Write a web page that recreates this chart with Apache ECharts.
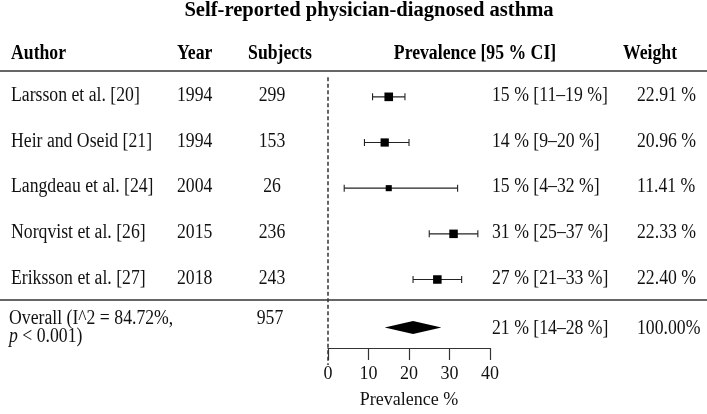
<!DOCTYPE html>
<html><head><meta charset="utf-8">
<script src="https://cdn.jsdelivr.net/npm/echarts@6/dist/echarts.min.js"></script>
<style>html,body{margin:0;padding:0;background:#fff}#c{width:707px;height:414px}</style>
</head><body><div id="c"></div>
<script>
// ---- data ----
const chartTitle = 'Self-reported physician-diagnosed asthma';
const headers = ['Author', 'Year', 'Subjects', 'Prevalence [95 % CI]', 'Weight'];
const authors = ['Larsson et al. [20]', 'Heir and Oseid [21]', 'Langdeau et al. [24]', 'Norqvist et al. [26]', 'Eriksson et al. [27]'];
const years = [1994, 1994, 2004, 2015, 2018];
const subjects = [299, 153, 26, 236, 243];
const prevalence = [15, 14, 15, 31, 27];
const ciLow = [11, 9, 4, 25, 21];
const ciHigh = [19, 20, 32, 37, 33];
const weights = [22.91, 20.96, 11.41, 22.33, 22.40];
const overallLine1 = 'Overall (I^2 = 84.72%,';
const overallLine2 = 'p < 0.001)';
const overallSubjects = 957;
const overallPrev = 21, overallLow = 14, overallHigh = 28;
const overallWeight = '100.00%';
const xTicks = [0, 10, 20, 30, 40];
const xAxisName = 'Prevalence %';

// ---- layout ----
const FONT = '"Liberation Serif", "Times New Roman", serif';
const FS = 20;
const SX = 0.885;
const TXT = '#111';
const LINE = '#333';
const rows = authors.map((a, i) => i + 1);
const overallRow = 6.05;
const col = { author: 11, year: 177, subjCenter: 272, prev: 492, weight: 637 };

const chart = echarts.init(document.getElementById('c'), null, { renderer: 'canvas' });

function txt(text, x, y, align, bold) {
  return {
    type: 'text', x: x, y: y, scaleX: SX,
    style: { text: text, x: 0, y: 0, font: (bold ? 'bold ' : '') + FS + 'px ' + FONT,
      fill: bold ? '#000' : TXT, align: align || 'left', verticalAlign: 'middle' }
  };
}

const option = {
  animation: false,
  backgroundColor: '#fff',
  grid: { left: 328, right: 217, top: 74, bottom: 63, containLabel: false },
  xAxis: {
    type: 'value', min: xTicks[0], max: xTicks[xTicks.length - 1], interval: 10,
    splitLine: { show: false },
    axisLine: { show: true, lineStyle: { color: LINE, width: 1.2 } },
    axisTick: { show: true, length: 12, lineStyle: { color: LINE, width: 1.2 } },
    axisLabel: { margin: 17, fontFamily: FONT, fontSize: 18, color: TXT },
    name: xAxisName, nameLocation: 'middle', nameGap: 43,
    nameTextStyle: { fontFamily: FONT, fontSize: 18, color: TXT }
  },
  yAxis: { type: 'value', min: 0.5, max: 6.5, inverse: true, show: false },
  graphic: [
    { type: 'text', x: 369, y: 11, style: { text: chartTitle, x: 0, y: 0, font: 'bold 20.6px ' + FONT, fill: '#000', align: 'center', verticalAlign: 'middle' } },
    txt(headers[0], 11, 54, 'left', true),
    txt(headers[1], 177, 54, 'left', true),
    txt(headers[2], 280, 54, 'center', true),
    txt(headers[3], 475, 54, 'center', true),
    txt(headers[4], 650, 54, 'center', true),
    { type: 'line', shape: { x1: 0, y1: 71, x2: 707, y2: 71 }, style: { stroke: LINE, lineWidth: 1.3 } },
    { type: 'line', shape: { x1: 0, y1: 300, x2: 707, y2: 300 }, style: { stroke: LINE, lineWidth: 1.3 } }
  ],
  series: [
    {
      name: 'ref', type: 'custom', clip: false, silent: true,
      data: [[0, 0.57, 6.87]],
      encode: { x: 0, y: [1, 2] },
      renderItem: function (params, api) {
        const a = api.coord([api.value(0), api.value(1)]);
        const b = api.coord([api.value(0), api.value(2)]);
        return { type: 'line', shape: { x1: a[0], y1: a[1], x2: b[0], y2: b[1] },
          style: { stroke: LINE, lineWidth: 1.5, lineDash: [4, 2.5] } };
      }
    },
    {
      name: 'ci', type: 'custom', clip: false, silent: true,
      data: rows.map((r, i) => [ciLow[i], ciHigh[i], r]),
      encode: { x: [0, 1], y: 2 },
      renderItem: function (params, api) {
        const a = api.coord([api.value(0), api.value(2)]);
        const b = api.coord([api.value(1), api.value(2)]);
        const h = 3.5;
        const st = { stroke: '#222', lineWidth: 1.1 };
        return { type: 'group', children: [
          { type: 'line', shape: { x1: a[0], y1: a[1], x2: b[0], y2: b[1] }, style: st },
          { type: 'line', shape: { x1: a[0], y1: a[1] - h, x2: a[0], y2: a[1] + h }, style: st },
          { type: 'line', shape: { x1: b[0], y1: b[1] - h, x2: b[0], y2: b[1] + h }, style: st }
        ] };
      }
    },
    {
      name: 'est', type: 'scatter', symbol: 'rect', silent: true,
      data: rows.map((r, i) => [prevalence[i], r, weights[i]]),
      symbolSize: function (v) { return 1.8 * Math.sqrt(v[2]); },
      itemStyle: { color: '#000', opacity: 1 }
    },
    {
      name: 'overall', type: 'custom', clip: false, silent: true,
      data: [[overallLow, overallPrev, overallHigh, overallRow]],
      encode: { x: [0, 1, 2], y: 3 },
      renderItem: function (params, api) {
        const y = api.value(3);
        const l = api.coord([api.value(0), y]);
        const c = api.coord([api.value(1), y]);
        const r = api.coord([api.value(2), y]);
        const h = 6.5;
        return { type: 'polygon', shape: { points: [[l[0], l[1]], [c[0], c[1] - h], [r[0], r[1]], [c[0], c[1] + h]] },
          style: { fill: '#000' } };
      }
    },
    {
      name: 'table', type: 'custom', clip: false, silent: true,
      data: rows.map((r, i) => [0, r, i]),
      encode: { x: 0, y: 1 },
      renderItem: function (params, api) {
        const i = api.value(2);
        const y = api.coord([0, api.value(1)])[1] - 1;
        return { type: 'group', children: [
          txt(authors[i], col.author, y),
          txt(String(years[i]), col.year, y),
          txt(String(subjects[i]), col.subjCenter, y, 'center'),
          txt(prevalence[i] + ' % [' + ciLow[i] + '\u2013' + ciHigh[i] + ' %]', col.prev, y),
          txt(weights[i].toFixed(2) + ' %', col.weight, y)
        ] };
      }
    },
    {
      name: 'tableOverall', type: 'custom', clip: false, silent: true,
      data: [[0, overallRow]],
      encode: { x: 0, y: 1 },
      renderItem: function (params, api) {
        const y = api.coord([0, api.value(1)])[1];
        const line2 = txt('', col.author - 2, y + 9);
        line2.style.text = '{i|p}{n|' + overallLine2.slice(1) + '}';
        line2.style.rich = {
          i: { fontStyle: 'italic', fontFamily: FONT, fontSize: FS, fill: TXT },
          n: { fontFamily: FONT, fontSize: FS, fill: TXT }
        };
        return { type: 'group', children: [
          txt(overallLine1, col.author - 2, y - 9),
          line2,
          txt(String(overallSubjects), col.subjCenter - 2, y - 9, 'center'),
          txt(overallPrev + ' % [' + overallLow + '\u2013' + overallHigh + ' %]', col.prev, y + 1),
          txt(overallWeight, col.weight, y + 1)
        ] };
      }
    }
  ]
};
chart.setOption(option);
</script>
</body></html>
